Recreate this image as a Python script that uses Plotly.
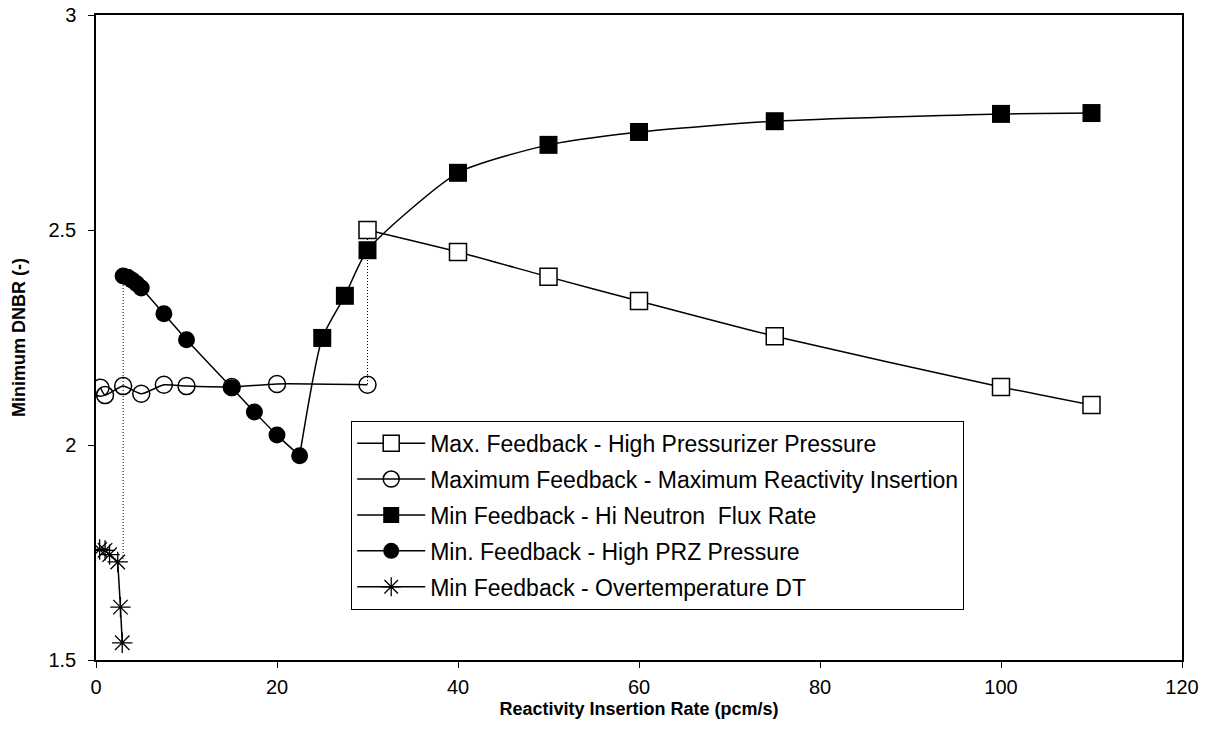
import plotly.graph_objects as go

# ---- data ----
open_sq_x = [30, 40, 50, 60, 75, 100, 110]
open_sq_y = [2.500, 2.449, 2.391, 2.335, 2.253, 2.135, 2.093]

open_ci_x = [0.5, 1, 3, 5, 7.5, 10, 15, 20, 30]
open_ci_y = [2.133, 2.116, 2.137, 2.119, 2.140, 2.137, 2.135, 2.142, 2.140]

fill_sq_x = [22.5, 25, 27.5, 30, 40, 50, 60, 75, 100, 110]
fill_sq_y = [1.975, 2.249, 2.347, 2.453, 2.633, 2.698, 2.728, 2.753, 2.770, 2.772]
fill_sq_show = [0, 1, 1, 1, 1, 1, 1, 1, 1, 1]  # first point only joins the curves

fill_ci_x = [3, 3.5, 4, 4.5, 5, 7.5, 10, 15, 17.5, 20, 22.5]
fill_ci_y = [2.393, 2.390, 2.383, 2.375, 2.365, 2.305, 2.245, 2.133, 2.077, 2.023, 1.975]

star_x = [0.4, 1.0, 1.5, 2.4, 2.7, 2.9]
star_y = [1.757, 1.755, 1.745, 1.728, 1.623, 1.540]

drop1_x = [3, 3]
drop1_y = [2.393, 1.728]
drop2_x = [30, 30]
drop2_y = [2.500, 2.140]

names = [
    "Max. Feedback - High Pressurizer Pressure",
    "Maximum Feedback - Maximum Reactivity Insertion",
    "Min Feedback - Hi Neutron  Flux Rate",
    "Min. Feedback - High PRZ Pressure",
    "Min Feedback - Overtemperature DT",
]

x_ticks = [0, 20, 40, 60, 80, 100, 120]
y_ticks = [1.5, 2, 2.5, 3]
y_tick_text = ["1.5", "2", "2.5", "3"]

BLACK = "#000000"
MS = 17
LW = 1.5

fig = go.Figure()

# dotted drop lines
for dx, dy in [(drop1_x, drop1_y), (drop2_x, drop2_y)]:
    fig.add_trace(go.Scatter(x=dx, y=dy, mode="lines", showlegend=False,
                             hoverinfo="skip",
                             line=dict(color=BLACK, width=1, dash="1px,2px")))

fig.add_trace(go.Scatter(
    x=open_sq_x, y=open_sq_y, mode="lines+markers", name=names[0], legendgroup="a",
    line=dict(color=BLACK, width=LW, shape="spline", smoothing=0.6),
    marker=dict(symbol="square", size=MS, color="white", opacity=1,
                line=dict(color=BLACK, width=1.5))))

fig.add_trace(go.Scatter(
    x=open_ci_x, y=open_ci_y, mode="lines+markers", name=names[1], legendgroup="b",
    line=dict(color=BLACK, width=LW, shape="spline", smoothing=0.6),
    marker=dict(symbol="circle-open", size=MS, color=BLACK, line=dict(width=1.5))))

fig.add_trace(go.Scatter(
    x=fill_sq_x, y=fill_sq_y, mode="lines+markers", name=names[2], legendgroup="c",
    line=dict(color=BLACK, width=LW, shape="spline", smoothing=0.6),
    marker=dict(symbol="square", size=[(MS + 1) * s for s in fill_sq_show], color=BLACK,
                opacity=1, line=dict(width=0))))

fig.add_trace(go.Scatter(
    x=fill_ci_x, y=fill_ci_y, mode="lines+markers", name=names[3], legendgroup="d",
    line=dict(color=BLACK, width=LW, shape="spline", smoothing=0.4),
    marker=dict(symbol="circle", size=MS, color=BLACK, line=dict(width=0))))

fig.add_trace(go.Scatter(
    x=star_x, y=star_y, mode="lines+markers", name=names[4], legendgroup="e",
    line=dict(color=BLACK, width=LW),
    marker=dict(symbol="asterisk-open", size=MS, color=BLACK, line=dict(color=BLACK, width=1.3))))

fig.update_layout(
    width=1211, height=751,
    margin=dict(l=96, r=29, t=15, b=91),
    paper_bgcolor="white", plot_bgcolor="white",
    font=dict(family="Arial, Liberation Sans, sans-serif", size=18, color=BLACK),
    showlegend=True,
    legend=dict(
        x=0.235, y=0.371, xanchor="left", yanchor="top",
        bgcolor="white", bordercolor=BLACK, borderwidth=1,
        font=dict(size=23), tracegroupgap=3, itemwidth=68,
    ),
    xaxis=dict(
        range=[0, 120], tickvals=x_ticks, ticks="outside", ticklen=6, tickcolor=BLACK,
        showline=True, linecolor=BLACK, linewidth=1.5, mirror=True, showgrid=False,
        zeroline=False, tickfont=dict(size=20), ticklabelstandoff=2, automargin=False,
        title=dict(text="<b>Reactivity Insertion Rate (pcm/s)</b>", font=dict(size=18), standoff=6),
    ),
    yaxis=dict(
        range=[1.5, 3], tickvals=y_ticks, ticktext=y_tick_text, ticks="outside", ticklen=6,
        tickcolor=BLACK, showline=True, linecolor=BLACK, linewidth=1.5, mirror=True,
        showgrid=False, zeroline=False, tickfont=dict(size=20), ticklabelstandoff=8,
        automargin=False,
        title=dict(text="<b>Minimum DNBR (-)</b>", font=dict(size=18), standoff=18),
    ),
)

fig.write_html("out.html")
